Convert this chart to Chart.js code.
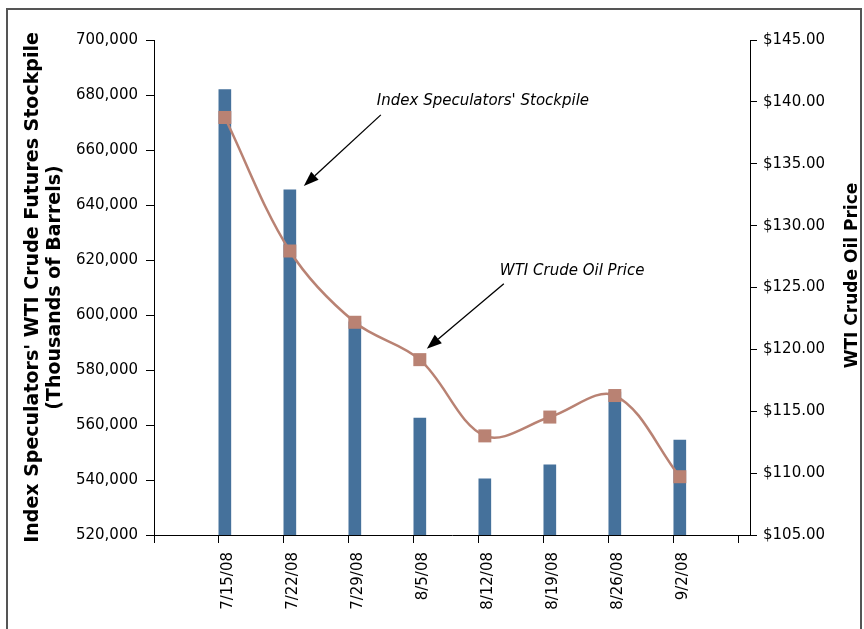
<!DOCTYPE html>
<html>
<head>
<meta charset="utf-8">
<script src="https://cdn.jsdelivr.net/npm/chart.js@4.4.1/dist/chart.umd.min.js"></script>
<style>
  html, body { margin: 0; padding: 0; background: #ffffff; }
  #wrap { width: 864px; height: 629px; position: relative; }
</style>
</head>
<body>
<div id="wrap"><canvas id="c" width="864" height="629"></canvas></div>
<script>
// Weekly observations, summer 2008
const weeks = ['7/15/08', '7/22/08', '7/29/08', '8/5/08', '8/12/08', '8/19/08', '8/26/08', '9/2/08'];
// Index speculators' WTI crude futures stockpile (thousands of barrels)
const stockpile = [682000, 645500, 597500, 562500, 540400, 545500, 572000, 554500];
// WTI crude oil price (US$ per barrel)
const wtiPrice = [138.74, 127.95, 122.19, 119.17, 113.01, 114.53, 116.27, 109.71];

// Axis tick values
const stockTicks = [520000, 540000, 560000, 580000, 600000, 620000, 640000, 660000, 680000, 700000];
const priceTicks = [105, 110, 115, 120, 125, 130, 135, 140, 145];
const weekTicks = [-1, 0, 1, 2, 3, 4, 5, 6, 7, 8];

const BAR_COLOR = '#45719B';
const LINE_COLOR = '#B98273';
const FONT = 'DejaVu Sans';
const SHIFT = 0.09; // each week's marks sit just right of its tick mark

const fmtThousands = v => String(Math.round(v)).replace(/\B(?=(\d{3})+(?!\d))/g, ',');

function arrow(ctx, x1, y1, x2, y2) {
  const ang = Math.atan2(y2 - y1, x2 - x1);
  const head = 15, half = 5.5;
  const bx = x2 - head * Math.cos(ang), by = y2 - head * Math.sin(ang);
  ctx.save();
  ctx.strokeStyle = '#000';
  ctx.fillStyle = '#000';
  ctx.lineWidth = 1.3;
  ctx.beginPath();
  ctx.moveTo(x1, y1);
  ctx.lineTo(bx, by);
  ctx.stroke();
  ctx.beginPath();
  ctx.moveTo(x2, y2);
  ctx.lineTo(bx + half * Math.sin(ang), by - half * Math.cos(ang));
  ctx.lineTo(bx - half * Math.sin(ang), by + half * Math.cos(ang));
  ctx.closePath();
  ctx.fill();
  ctx.restore();
}

const decorations = {
  id: 'decorations',
  beforeDraw(chart) {
    const ctx = chart.ctx;
    ctx.save();
    ctx.fillStyle = '#ffffff';
    ctx.fillRect(0, 0, chart.width, chart.height);
    ctx.strokeStyle = '#555555';
    ctx.lineWidth = 2;
    ctx.strokeRect(7, 9, 854, 640);
    ctx.restore();
  },
  afterDraw(chart) {
    const ctx = chart.ctx;
    const x = chart.scales.x, ys = chart.scales.yStock, yp = chart.scales.yPrice;
    const area = chart.chartArea;

    // right axis title, reading upward
    ctx.save();
    ctx.translate(853, (area.top + area.bottom) / 2 - 12);
    ctx.rotate(-Math.PI / 2);
    ctx.font = 'bold 17px "' + FONT + '"';
    ctx.fillStyle = '#000';
    ctx.textAlign = 'center';
    ctx.textBaseline = 'middle';
    ctx.fillText('WTI Crude Oil Price', 0, 0);
    ctx.restore();

    // callouts
    ctx.save();
    ctx.font = 'italic 15px "' + FONT + '"';
    ctx.fillStyle = '#000';
    ctx.textBaseline = 'middle';
    ctx.textAlign = 'left';

    const bx = x.getPixelForValue(1 + SHIFT), by = ys.getPixelForValue(stockpile[1]);
    ctx.fillText("Index Speculators' Stockpile", bx + 87, by - 89);
    arrow(ctx, bx + 91, by - 75, bx + 14, by - 4);

    const px = x.getPixelForValue(3 + SHIFT), py = yp.getPixelForValue(wtiPrice[3]);
    ctx.fillText('WTI Crude Oil Price', px + 80, py - 89);
    arrow(ctx, px + 84, py - 76, px + 7, py - 11);
    ctx.restore();
  }
};

const tickFont = { family: FONT, size: 15 };

new Chart(document.getElementById('c').getContext('2d'), {
  type: 'bar',
  data: {
    datasets: [
      {
        type: 'line',
        label: 'WTI Crude Oil Price',
        yAxisID: 'yPrice',
        xAxisID: 'x',
        data: wtiPrice.map((v, i) => ({ x: i + SHIFT, y: v })),
        borderColor: LINE_COLOR,
        borderWidth: 2.5,
        tension: 0.35,
        pointStyle: 'rect',
        pointRadius: 9.2,
        pointBackgroundColor: LINE_COLOR,
        pointBorderColor: LINE_COLOR,
        pointBorderWidth: 0,
        order: 1
      },
      {
        type: 'bar',
        label: "Index Speculators' Stockpile",
        yAxisID: 'yStock',
        xAxisID: 'x',
        data: stockpile.map((v, i) => ({ x: i + SHIFT, y: v })),
        backgroundColor: BAR_COLOR,
        barThickness: 12,
        order: 2
      }
    ]
  },
  options: {
    responsive: false,
    animation: false,
    devicePixelRatio: 1,
    layout: { padding: { top: 40, left: 0, right: 0, bottom: 0 } },
    plugins: { legend: { display: false }, tooltip: { enabled: false } },
    scales: {
      x: {
        type: 'linear',
        position: 'bottom',
        offset: false,
        min: -1,
        max: 8.17,
        afterBuildTicks: s => { s.ticks = weekTicks.map(v => ({ value: v })); },
        ticks: {
          autoSkip: false,
          minRotation: 90,
          maxRotation: 90,
          labelOffset: 9.5,
          padding: 9,
          color: '#000',
          font: tickFont,
          callback: v => (weeks[v] !== undefined ? weeks[v] : '')
        },
        grid: { offset: false, drawOnChartArea: false, drawTicks: true, tickLength: 8, color: '#000' },
        border: { color: '#000', width: 1 },
        afterFit: s => { s.height = 94; }
      },
      yStock: {
        type: 'linear',
        position: 'left',
        min: 520000,
        max: 700000,
        afterBuildTicks: s => { s.ticks = stockTicks.map(v => ({ value: v })); },
        ticks: { padding: 8, color: '#000', font: tickFont, callback: v => fmtThousands(v) },
        grid: { drawOnChartArea: false, drawTicks: true, tickLength: 8, color: '#000' },
        border: { color: '#000', width: 1 },
        title: {
          display: true,
          text: ["Index Speculators' WTI Crude Futures Stockpile", '(Thousands of Barrels)'],
          color: '#000',
          font: { family: FONT, size: 19, weight: 'bold', lineHeight: 1.16 },
          padding: { top: 22, bottom: 0 }
        },
        afterFit: s => { s.width = 154; }
      },
      yPrice: {
        type: 'linear',
        position: 'right',
        min: 105,
        max: 145,
        afterBuildTicks: s => { s.ticks = priceTicks.map(v => ({ value: v })); },
        ticks: { padding: 6, color: '#000', font: tickFont, callback: v => '$' + Number(v).toFixed(2) },
        grid: { drawOnChartArea: false, drawTicks: true, tickLength: 7, color: '#000' },
        border: { color: '#000', width: 1 },
        afterFit: s => { s.width = 114; }
      }
    }
  },
  plugins: [decorations]
});
</script>
</body>
</html>
